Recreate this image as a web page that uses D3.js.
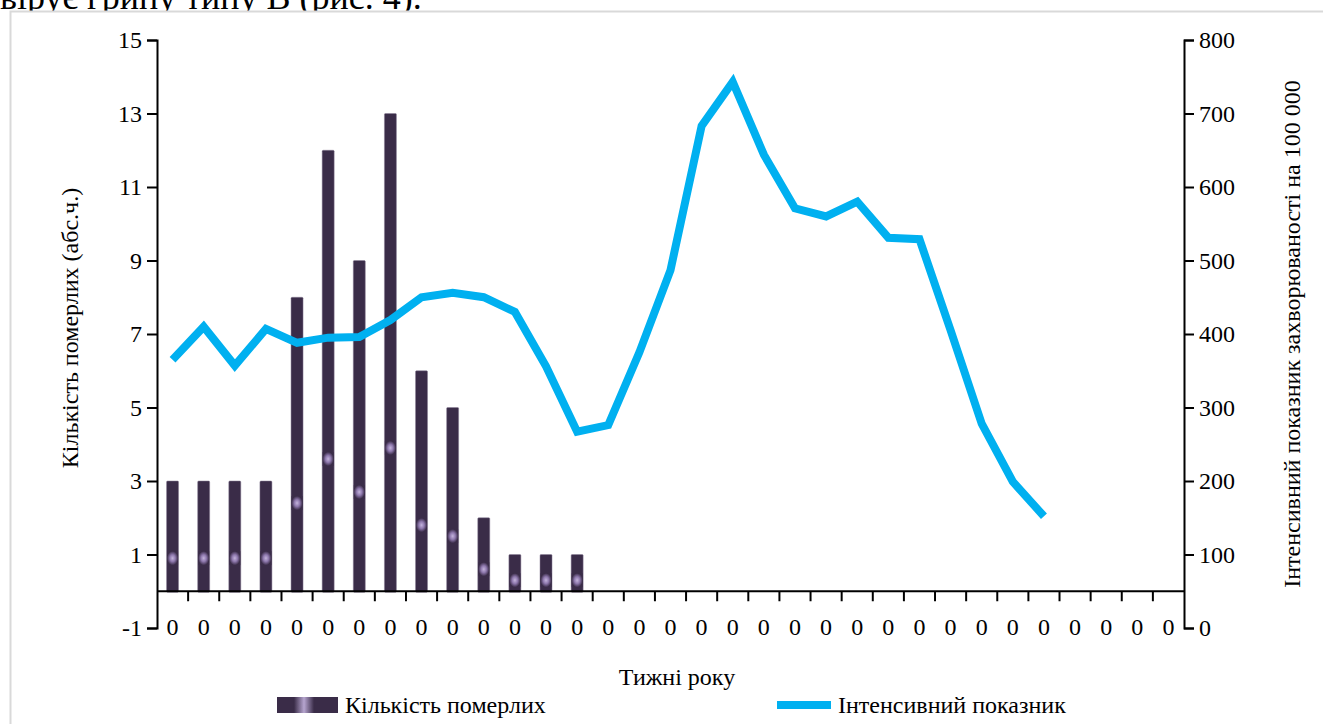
<!DOCTYPE html>
<html>
<head>
<meta charset="utf-8">
<script src="https://cdn.jsdelivr.net/npm/d3@7"></script>
<style>
  html, body { margin: 0; padding: 0; background: #fff; overflow: hidden; }
  svg { display: block; font-family: "Liberation Serif", "Times New Roman", serif; }
</style>
</head>
<body>
<svg id="chart" width="1323" height="724"></svg>
<script>
// ---- data ----
const weekLabels = ["0","0","0","0","0","0","0","0","0","0","0","0","0","0","0","0","0","0","0","0","0","0","0","0","0","0","0","0","0","0","0","0","0"];
const deaths = [3, 3, 3, 3, 8, 12, 9, 13, 6, 5, 2, 1, 1, 1];
const intensity = [365, 410, 357, 407, 388, 395, 396, 419, 450, 456, 450, 430, 356, 267, 276, 375, 487, 683, 743, 644, 571, 560, 580, 531, 529, 405, 278, 199, 152];
const leftTicks = [-1, 1, 3, 5, 7, 9, 11, 13, 15];
const rightTicks = [0, 100, 200, 300, 400, 500, 600, 700, 800];
const headerText = "вірує грипу типу В (рис. 4).";
const leftTitle = "Кількість померлих (абс.ч.)";
const rightTitle = "Інтенсивний показник захворюваності на 100 000";
const xTitle = "Тижні року";
const legendBar = "Кількість померлих";
const legendLine = "Інтенсивний показник";

// ---- layout ----
const svg = d3.select("#chart");
const L = 157, R = 1184, T = 40, B = 628;
const barColor = "#3a2c48";
const lineColor = "#00b0f0";
const fontSize = 24;
const FONT = "Liberation Serif";

const idx = weekLabels.map((d, i) => i);
const x = d3.scaleBand().domain(idx).range([L, R]).padding(0);
const yL = d3.scaleLinear().domain([-1, 15]).range([B, T]);
const yR = d3.scaleLinear().domain([0, 800]).range([B, T]);

// defs
const defs = svg.append("defs");
const rg = defs.append("radialGradient").attr("id", "glint").attr("cx", "50%").attr("cy", "50%").attr("r", "50%");
rg.append("stop").attr("offset", "0%").attr("stop-color", "#c4b4dc");
rg.append("stop").attr("offset", "50%").attr("stop-color", "#8e78ad");
rg.append("stop").attr("offset", "100%").attr("stop-color", barColor);
const lg = defs.append("linearGradient").attr("id", "legGlint").attr("x1", "0").attr("x2", "1").attr("y1", "0").attr("y2", "0");
lg.append("stop").attr("offset", "0%").attr("stop-color", barColor);
lg.append("stop").attr("offset", "50%").attr("stop-color", "#b6a5cf");
lg.append("stop").attr("offset", "100%").attr("stop-color", barColor);

// header text (clipped from the surrounding document)
svg.append("text").attr("x", 0).attr("y", 9).attr("font-size", 36).attr("font-family", FONT).attr("fill", "#000").text(headerText);

// frame
svg.append("rect").attr("x", 10.5).attr("y", 11.5).attr("width", 1330).attr("height", 730)
  .attr("fill", "#fff").attr("stroke", "#d9d9d9").attr("stroke-width", 2);

// bars
const bw = 12;
const barG = svg.append("g");
deaths.forEach((v, i) => {
  const cx = x(i) + x.bandwidth() / 2;
  const y0 = yL(0), y1 = yL(v);
  barG.append("rect").attr("x", cx - bw / 2).attr("y", y1).attr("width", bw).attr("height", y0 - y1 + 1)
    .attr("fill", barColor).attr("stroke", "#8a7f96").attr("stroke-width", 0.5).attr("rx", 1);
  const gy = y0 - (y0 - y1) * 0.3;
  barG.append("rect").attr("x", cx - bw / 2 + 0.5).attr("y", gy - 7).attr("width", bw - 1).attr("height", 14)
    .attr("fill", "url(#glint)");
});

// line
const line = d3.line().x((d, i) => x(i) + x.bandwidth() / 2).y(d => yR(d)).curve(d3.curveLinear);
svg.append("path").datum(intensity).attr("d", line).attr("fill", "none")
  .attr("stroke", lineColor).attr("stroke-width", 8).attr("stroke-linejoin", "miter").attr("stroke-linecap", "butt");

// left axis
const leftAxis = d3.axisLeft(yL).tickValues(leftTicks).tickSize(10).tickPadding(5).tickFormat(d => String(d));
const gL = svg.append("g").attr("transform", `translate(${L},0)`).call(leftAxis);
// right axis
const rightAxis = d3.axisRight(yR).tickValues(rightTicks).tickSize(10).tickPadding(5).tickFormat(d => String(d));
const gR = svg.append("g").attr("transform", `translate(${R},0)`).call(rightAxis);
// x axis at zero
const xAxis = d3.axisBottom(x).tickFormat(i => weekLabels[i]).tickSize(0).tickPadding(36);
const gX = svg.append("g").attr("transform", `translate(0,${yL(0)})`).call(xAxis);
gX.select(".domain").remove();
svg.append("line").attr("x1", L).attr("x2", R).attr("y1", yL(0)).attr("y2", yL(0)).attr("stroke", "#000").attr("stroke-width", 2);
// boundary ticks
const boundaries = idx.slice(1).map(i => x(i));
svg.append("g").selectAll("line").data(boundaries).join("line")
  .attr("x1", d => d).attr("x2", d => d).attr("y1", yL(0)).attr("y2", yL(0) + 10)
  .attr("stroke", "#000").attr("stroke-width", 2);

[gL, gR, gX].forEach(g => {
  g.attr("font-family", FONT).attr("font-size", fontSize);
  g.selectAll("text").attr("font-size", fontSize).attr("font-family", FONT).attr("fill", "#000");
  g.selectAll("line").attr("stroke", "#000").attr("stroke-width", 2);
  g.selectAll(".domain").attr("stroke", "#000").attr("stroke-width", 2);
});
gX.selectAll("text").attr("dy", "0.32em");

// axis titles
svg.append("text").attr("transform", `translate(78,328) rotate(-90)`).attr("text-anchor", "middle")
  .attr("font-size", fontSize).attr("font-family", FONT).text(leftTitle);
svg.append("text").attr("transform", `translate(1300,334) rotate(-90)`).attr("text-anchor", "middle")
  .attr("font-size", fontSize).attr("font-family", FONT).text(rightTitle);
svg.append("text").attr("x", 677).attr("y", 685).attr("text-anchor", "middle").attr("font-size", fontSize)
  .attr("font-family", FONT).text(xTitle);

// legend
svg.append("rect").attr("x", 277).attr("y", 697).attr("width", 61).attr("height", 16).attr("fill", barColor);
svg.append("rect").attr("x", 294).attr("y", 697).attr("width", 20).attr("height", 16).attr("fill", "url(#legGlint)");
svg.append("text").attr("x", 345).attr("y", 713).attr("font-size", fontSize).attr("font-family", FONT).text(legendBar);
svg.append("line").attr("x1", 777).attr("x2", 831).attr("y1", 705).attr("y2", 705).attr("stroke", lineColor).attr("stroke-width", 8);
svg.append("text").attr("x", 838).attr("y", 713).attr("font-size", fontSize).attr("font-family", FONT).text(legendLine);
</script>
</body>
</html>
